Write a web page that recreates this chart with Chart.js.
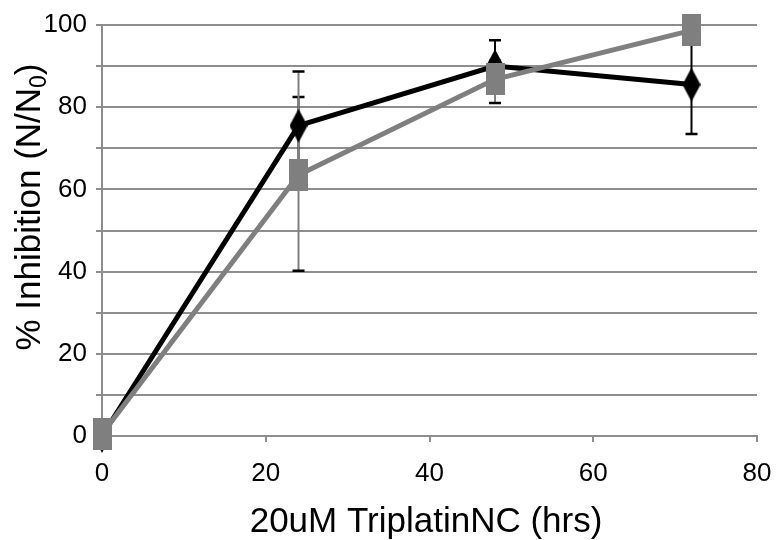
<!DOCTYPE html>
<html>
<head>
<meta charset="utf-8">
<script src="https://cdn.jsdelivr.net/npm/chart.js@4/dist/chart.umd.min.js"></script>
<style>
  html, body { margin: 0; padding: 0; background: #fff; }
  canvas { display: block; }
</style>
</head>
<body>
<canvas id="c" width="777" height="540"></canvas>
<script>
// Exposure time points (hours)
const hours = [0, 24, 48, 72];

// Black diamond series
const inhibitionA = [0, 75.5, 90, 85.5];
const errUpA = [0, 7, 6.3, 12];
const errDownA = [0, 12, 6.3, 12];

// Grey square series
const inhibitionB = [0.5, 63.5, 86.8, 98.7];
const errUpB = [0, 25.2, 4.5, 1];
const errDownB = [0, 23.3, 5.8, 1];

// Axis labels
const xTickValues = [0, 20, 40, 60, 80];
const yLabelValues = [0, 20, 40, 60, 80, 100];
const xTitle = '20uM TriplatinNC (hrs)';
const yTitleMain = '% Inhibition (N/N';
const yTitleSub = '0';
const yTitleEnd = ')';

const FONT = '"Liberation Sans", Arial, sans-serif';
const GRID = '#8e8e8e';
const GREY = '#7f7f7f';

// Tall marker images
function makeMarker(kind, w, h, color) {
  const c = document.createElement('canvas');
  c.width = w; c.height = h;
  const g = c.getContext('2d');
  g.fillStyle = color;
  if (kind === 'rect') {
    g.fillRect(0, 0, w, h);
  } else {
    g.beginPath();
    g.moveTo(w / 2, 0);
    g.lineTo(w, h / 2);
    g.lineTo(w / 2, h);
    g.lineTo(0, h / 2);
    g.closePath();
    g.fill();
  }
  return c;
}
const squareMarker = makeMarker('rect', 19, 32, GREY);
const diamondMarker = makeMarker('diamond', 18, 34, '#000');

// Vertical error bars with caps, drawn beneath the series
const errorBars = {
  id: 'errorBars',
  beforeDatasetsDraw(chart) {
    const ctx = chart.ctx;
    const xs = chart.scales.x, ys = chart.scales.y;
    // draw the last dataset (black) first so grey bars sit above it
    for (let i = chart.data.datasets.length - 1; i >= 0; i--) {
      const ds = chart.data.datasets[i];
      ds.data.forEach((p, j) => {
        const up = ds.errUp[j], down = ds.errDown[j];
        if (!up && !down) return;
        const x = xs.getPixelForValue(p.x);
        const yT = ys.getPixelForValue(p.y + up);
        const yB = ys.getPixelForValue(p.y - down);
        ctx.save();
        ctx.strokeStyle = ds.errColor;
        ctx.lineWidth = 2;
        ctx.beginPath();
        ctx.moveTo(x, yT); ctx.lineTo(x, yB);
        ctx.stroke();
        ctx.strokeStyle = '#000';
        ctx.lineWidth = 2.5;
        ctx.beginPath();
        ctx.moveTo(x - 6, yT); ctx.lineTo(x + 6, yT);
        ctx.moveTo(x - 6, yB); ctx.lineTo(x + 6, yB);
        ctx.stroke();
        ctx.restore();
      });
    }
  }
};

// Axis titles (y title carries a subscript)
const axisTitles = {
  id: 'axisTitles',
  afterDraw(chart) {
    const ctx = chart.ctx;
    ctx.save();
    ctx.fillStyle = '#000';
    ctx.textBaseline = 'alphabetic';
    // x title
    ctx.font = '35px ' + FONT;
    ctx.textAlign = 'center';
    ctx.fillText(xTitle, 426, 532);
    // y title
    const big = '35px ' + FONT, small = '23px ' + FONT;
    ctx.font = big;
    const w1 = ctx.measureText(yTitleMain).width;
    const w3 = ctx.measureText(yTitleEnd).width;
    ctx.font = small;
    const w2 = ctx.measureText(yTitleSub).width;
    const total = w1 + w2 + w3;
    ctx.translate(40, 207);
    ctx.rotate(-Math.PI / 2);
    ctx.textAlign = 'left';
    let x0 = -total / 2;
    ctx.font = big;
    ctx.fillText(yTitleMain, x0, 0);
    ctx.font = small;
    ctx.fillText(yTitleSub, x0 + w1, 6);
    ctx.font = big;
    ctx.fillText(yTitleEnd, x0 + w1 + w2, 0);
    ctx.restore();
  }
};

const toPoints = (ys) => hours.map((h, i) => ({ x: h, y: ys[i] }));

new Chart(document.getElementById('c'), {
  type: 'scatter',
  data: {
    datasets: [
      {
        data: toPoints(inhibitionB),
        errUp: errUpB, errDown: errDownB, errColor: GREY,
        showLine: true,
        borderColor: GREY,
        borderWidth: 5,
        pointStyle: squareMarker,
        pointRadius: 10,
        clip: false
      },
      {
        data: toPoints(inhibitionA),
        errUp: errUpA, errDown: errDownA, errColor: '#000',
        showLine: true,
        borderColor: '#000',
        borderWidth: 5,
        pointStyle: diamondMarker,
        pointRadius: 10,
        clip: false
      }
    ]
  },
  options: {
    responsive: false,
    animation: false,
    devicePixelRatio: 1,
    layout: { padding: { top: 25, right: 20, left: 0, bottom: 0 } },
    plugins: { legend: { display: false }, tooltip: { enabled: false } },
    scales: {
      x: {
        type: 'linear',
        min: 0, max: 80,
        afterBuildTicks: (s) => { s.ticks = xTickValues.map(v => ({ value: v })); },
        afterFit: (s) => { s.height = 104; s.paddingLeft = 0; s.paddingRight = 0; },
        ticks: { color: '#000', font: { family: FONT, size: 26 }, padding: 16, maxRotation: 0 },
        grid: { drawOnChartArea: false, drawTicks: true, tickLength: 6, color: GRID, lineWidth: 2 },
        border: { display: true, color: GRID, width: 2 }
      },
      y: {
        min: 0, max: 100,
        ticks: {
          stepSize: 10,
          color: '#000',
          font: { family: FONT, size: 26 },
          padding: 9,
          callback: (v) => yLabelValues.includes(v) ? String(v) : ''
        },
        afterFit: (s) => { s.width = 102; s.paddingTop = 0; s.paddingBottom = 0; },
        grid: { color: GRID, lineWidth: 2, tickLength: 6 },
        border: { display: true, color: GRID, width: 2 }
      }
    }
  },
  plugins: [errorBars, axisTitles]
});
</script>
</body>
</html>
